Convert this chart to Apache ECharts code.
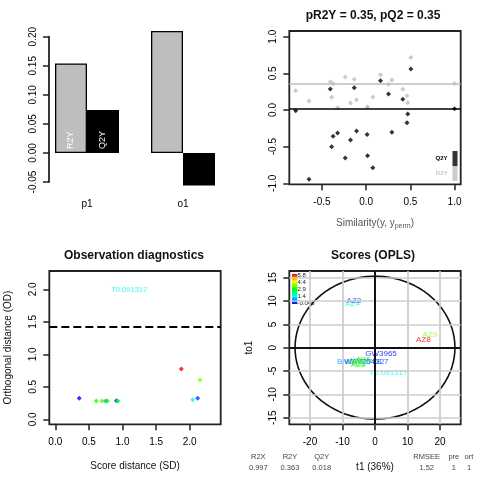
<!DOCTYPE html>
<html>
<head>
<meta charset="utf-8">
<script src="https://cdn.jsdelivr.net/npm/echarts@6/dist/echarts.min.js"></script>
<style>
  html, body { margin: 0; padding: 0; background: #fff; }
  #main { width: 480px; height: 480px; }
</style>
</head>
<body>
<div id="main"></div>
<script>
// bar panel (R2Y / Q2Y per component)
var barCats = ['p1', 'o1'];
var barR2Y = [0.154, 0.210];
var barQ2Y = [0.074, -0.056];

// permutation panel
var permSim = [-0.798, -0.647, -0.406, -0.391, -0.374, -0.324, -0.237, -0.177, -0.135, -0.109, 0.011, 0.016, 0.075, 0.162, 0.253, 0.291, 0.415, 0.462, 0.471, 0.506, 1.0];
var permR2Y = [0.263, 0.123, 0.386, 0.173, 0.359, 0.031, 0.450, 0.095, 0.418, 0.141, 0.031, 0.045, 0.177, 0.482, 0.350, 0.409, 0.282, 0.195, 0.100, 0.718, 0.363];
var permQ2Y = [-0.009, -0.946, 0.286, -0.500, -0.359, -0.314, -0.655, -0.409, 0.305, -0.286, -0.336, -0.623, -0.787, 0.400, 0.218, -0.305, 0.145, -0.173, -0.055, 0.559, 0.018];
var modelR2Y = 0.363;
var modelQ2Y = 0.018;

// observations (diagnostics + scores), Y is the colour variable
var obsNames = ['BMS779788', 'WAY254327', 'GW3965', 'AZ1', 'AZ2', 'AZ5', 'AZ6', 'AZ4', 'AZ3', 'AZ8', 'AZ9', 'T0.091317'];
var obsSD  = [0.750, 0.908, 0.357, 0.610, 0.695, 0.774, 0.933, 2.045, 2.119, 1.875, 2.153, 1.100];
var obsOD  = [0.280, 0.285, 0.323, 0.280, 0.280, 0.280, 0.280, 0.302, 0.323, 0.774, 0.609, 1.985];
var obsY   = [0.80, 0.25, -0.045, 3.10, 3.30, 2.80, 2.60, 1.50, 0.30, 5.80, 3.65, 1.45];
var obsT1  = [-4.9, -2.6, 1.85, -5.8, -4.8, -3.6, -5.2, -6.9, -6.5, 14.9, 16.9, 4.1];
var obsTo1 = [-3.05, -3.1, -1.35, -2.8, -3.4, -2.5, -3.7, 9.5, 10.0, 1.65, 2.7, -5.3];
var odThreshold = 1.415;

// score panel extras
var ellipseA = 24.6;
var ellipseB = 15.3;
var scoreXTicks = [-20, -10, 0, 10, 20];
var scoreYTicks = [-15, -10, -5, 0, 5, 10, 15];
var colorTicks = ['5.8', '4.4', '2.9', '1.4', '-0.045'];
var rainbow = ['#0000FF', '#00FFFF', '#00FF00', '#FFFF00', '#FF0000'];
var summaryLeft = [['R2X', '0.997'], ['R2Y', '0.363'], ['Q2Y', '0.018']];
var summaryRight = [['RMSEE', '1.52'], ['pre', '1'], ['ort', '1']];

var FONT = '"Liberation Sans", Arial, sans-serif';

function vAxis(gi, min, max, ticks, dec, extra) {
  var ax = {
    type: 'value', gridIndex: gi, min: min, max: max,
    splitLine: { show: false },
    axisLine: { show: false, onZero: false },
    axisTick: { show: true, length: 6, customValues: ticks, lineStyle: { color: '#222', width: 1.5 } },
    axisLabel: { customValues: ticks, fontSize: 10, color: '#000', margin: 13,
      formatter: function (v) { return v.toFixed(dec); } },
    nameTextStyle: { fontSize: 10, color: '#111' }
  };
  return Object.assign(ax, extra || {});
}

function yAx(gi, min, max, ticks, dec, extra) {
  var ax = vAxis(gi, min, max, ticks, dec, extra);
  ax.axisLabel.rotate = 90;
  ax.axisLabel.margin = 11;
  return ax;
}

var outliers = [], inliers = [], scoreData = [];
obsNames.forEach(function (n, i) {
  var item = { name: n, value: [obsSD[i], obsOD[i], obsY[i]] };
  if (obsOD[i] > odThreshold) outliers.push(item); else inliers.push(item);
  scoreData.push({ name: n, value: [obsT1[i], obsTo1[i], obsY[i]] });
});

var ellipse = [];
for (var a = 0; a <= 360; a += 4) {
  var r = a * Math.PI / 180;
  ellipse.push([ellipseA * Math.cos(r), ellipseB * Math.sin(r)]);
}

var guideLines = [];
scoreXTicks.forEach(function (v) { guideLines.push({ xAxis: v, lineStyle: { color: '#CCCCCC', width: 1.7, type: 'solid' } }); });
scoreYTicks.forEach(function (v) { guideLines.push({ yAxis: v, lineStyle: { color: '#CCCCCC', width: 1.7, type: 'solid' } }); });
guideLines.push({ xAxis: 0, lineStyle: { color: '#111', width: 2, type: 'solid' } });
guideLines.push({ yAxis: 0, lineStyle: { color: '#111', width: 2, type: 'solid' } });

var graphics = [{
  type: 'rect', left: 292, top: 274, shape: { width: 5.3, height: 30 },
  style: { fill: new echarts.graphic.LinearGradient(0, 0, 0, 1,
    rainbow.slice().reverse().map(function (c, i) { return { offset: i / 4, color: c }; })) }
}];
colorTicks.forEach(function (t, i) {
  graphics.push({ type: 'text', left: 297.5, top: 272 + i * 7, style: { text: t, fontSize: 6, font: '6px ' + FONT, fill: '#222' } });
});
function addSummary(list, xs) {
  list.forEach(function (p, i) {
    [0, 1].forEach(function (k) {
      graphics.push({ type: 'text', x: xs[i], y: k ? 467.7 : 457.3,
        style: { text: p[k], font: '7.5px ' + FONT, fill: '#444', align: 'center', textAlign: 'center',
          verticalAlign: 'middle', textVerticalAlign: 'middle' } });
    });
  });
}
addSummary(summaryLeft, [258.3, 290, 321.7]);
addSummary(summaryRight, [426.7, 453.8, 469]);

var chart = echarts.init(document.getElementById('main'), null, { renderer: 'canvas' });
chart.setOption({
  animation: false,
  backgroundColor: '#fff',
  textStyle: { fontFamily: FONT },
  title: [
    { text: 'pR2Y = 0.35, pQ2 = 0.35', left: 373, top: 10, textAlign: 'center', padding: 0,
      textStyle: { fontSize: 12, fontWeight: 'bold', color: '#111' } },
    { text: 'Observation diagnostics', left: 134, top: 250, textAlign: 'center', padding: 0,
      textStyle: { fontSize: 12, fontWeight: 'bold', color: '#111' } },
    { text: 'Scores (OPLS)', left: 373, top: 250, textAlign: 'center', padding: 0,
      textStyle: { fontSize: 12, fontWeight: 'bold', color: '#111' } }
  ],
  legend: {
    data: [{ name: 'Q2Y', textStyle: { color: '#000' } }, { name: 'R2Y', textStyle: { color: '#C8C8C8' } }],
    orient: 'vertical', right: 22.5, top: 151, itemWidth: 5, itemHeight: 15, itemGap: 0,
    padding: 0, align: 'right', icon: 'rect', selectedMode: false,
    textStyle: { fontSize: 6, fontWeight: 'bold', padding: [0, 0, 0, 0] }
  },
  grid: [
    { left: 39, top: 36.7, width: 192, height: 145.3 },
    { left: 289.3, top: 31, width: 171.4, height: 153.3, show: true, borderColor: '#222', borderWidth: 1.8 },
    { left: 49.3, top: 271, width: 171.4, height: 153.3, show: true, borderColor: '#222', borderWidth: 1.8 },
    { left: 289.3, top: 271, width: 171.4, height: 153.3, show: true, borderColor: '#222', borderWidth: 1.8 }
  ],
  xAxis: [
    { type: 'category', gridIndex: 0, data: barCats,
      axisLine: { show: false, onZero: false }, axisTick: { show: false },
      axisLabel: { fontSize: 10, color: '#000', margin: 17 } },
    vAxis(1, -0.87, 1.07, [-0.5, 0, 0.5, 1], 1, {
      name: '{a|Similarity(y, y}{s|perm}{a|)}', nameLocation: 'middle', nameGap: 33,
      nameTextStyle: { rich: { a: { fontSize: 10, color: '#555', lineHeight: 12 },
        s: { fontSize: 7, color: '#555', lineHeight: 7, verticalAlign: 'bottom' } } } }),
    vAxis(2, -0.089, 2.461, [0, 0.5, 1, 1.5, 2], 1, {
      name: 'Score distance (SD)', nameLocation: 'middle', nameGap: 37 }),
    vAxis(3, -26.37, 26.37, scoreXTicks, 0, {
      name: 't1 (36%)', nameLocation: 'middle', nameGap: 38 })
  ],
  yAxis: [
    yAx(0, -0.05, 0.2, [-0.05, 0, 0.05, 0.1, 0.15, 0.2], 2, {
      offset: -10, axisLine: { show: true, onZero: false, lineStyle: { color: '#222', width: 1.8 } } }),
    yAx(1, -1.014, 1.078, [-1, -0.5, 0, 0.5, 1], 1),
    yAx(2, -0.077, 2.282, [0, 0.5, 1, 1.5, 2], 1, {
      name: 'Orthogonal distance (OD)', nameLocation: 'middle', nameGap: 36 }),
    yAx(3, -16.41, 16.43, scoreYTicks, 0, {
      name: 'to1', nameLocation: 'middle', nameGap: 35 })
  ],
  visualMap: {
    type: 'continuous', show: false, min: -0.045, max: 5.8, dimension: 2,
    seriesIndex: [4, 5, 7], inRange: { color: rainbow }
  },
  series: [
    { name: 'barR2Y', type: 'bar', xAxisIndex: 0, yAxisIndex: 0, barWidth: 32, barGap: '0%', clip: false,
      itemStyle: { color: '#BEBEBE', borderColor: '#000', borderWidth: 1.3 },
      label: { show: false, position: 'insideBottom', rotate: 90, align: 'left', verticalAlign: 'middle',
        distance: 4, color: '#fff', fontSize: 9, formatter: 'R2Y' },
      data: barR2Y.map(function (v, i) { return i === 0 ? { value: v, label: { show: true } } : v; }) },
    { name: 'barQ2Y', type: 'bar', xAxisIndex: 0, yAxisIndex: 0, barWidth: 32, barGap: '0%', clip: false,
      itemStyle: { color: '#000' },
      label: { show: false, position: 'insideBottom', rotate: 90, align: 'left', verticalAlign: 'middle',
        distance: 4, color: '#fff', fontSize: 9, formatter: 'Q2Y' },
      data: barQ2Y.map(function (v, i) { return i === 0 ? { value: v, label: { show: true } } : v; }) },
    { name: 'R2Y', type: 'scatter', xAxisIndex: 1, yAxisIndex: 1, symbol: 'diamond', symbolSize: 5,
      itemStyle: { color: '#BEBEBE' },
      markLine: { silent: true, symbol: ['none', 'none'], label: { show: false },
        lineStyle: { color: '#BEBEBE', width: 1.6, type: 'solid' }, data: [{ yAxis: modelR2Y }] },
      data: permSim.map(function (x, i) { return [x, permR2Y[i]]; }) },
    { name: 'Q2Y', type: 'scatter', xAxisIndex: 1, yAxisIndex: 1, symbol: 'diamond', symbolSize: 5,
      itemStyle: { color: '#000' },
      markLine: { silent: true, symbol: ['none', 'none'], label: { show: false },
        lineStyle: { color: '#000', width: 1.6, type: 'solid' }, data: [{ yAxis: modelQ2Y }] },
      data: permSim.map(function (x, i) { return [x, permQ2Y[i]]; }) },
    { name: 'obs', type: 'scatter', xAxisIndex: 2, yAxisIndex: 2, symbol: 'diamond', symbolSize: 5,
      markLine: { silent: true, symbol: ['none', 'none'], label: { show: false },
        lineStyle: { color: '#000', width: 2, type: [8, 4] }, data: [{ yAxis: odThreshold }] },
      data: inliers },
    { name: 'outlier', type: 'scatter', xAxisIndex: 2, yAxisIndex: 2, symbolSize: 0,
      label: { show: true, position: 'inside', formatter: '{b}', color: 'inherit', fontSize: 7.5 },
      data: outliers },
    { name: 'ellipse', type: 'line', xAxisIndex: 3, yAxisIndex: 3, showSymbol: false, smooth: false,
      lineStyle: { color: '#111', width: 1.6 },
      markLine: { silent: true, symbol: ['none', 'none'], label: { show: false }, data: guideLines },
      data: ellipse },
    { name: 'scores', type: 'scatter', xAxisIndex: 3, yAxisIndex: 3, symbolSize: 0,
      label: { show: true, position: 'inside', formatter: '{b}', color: 'inherit', fontSize: 8 },
      data: scoreData }
  ],
  graphic: graphics
});
</script>
</body>
</html>
